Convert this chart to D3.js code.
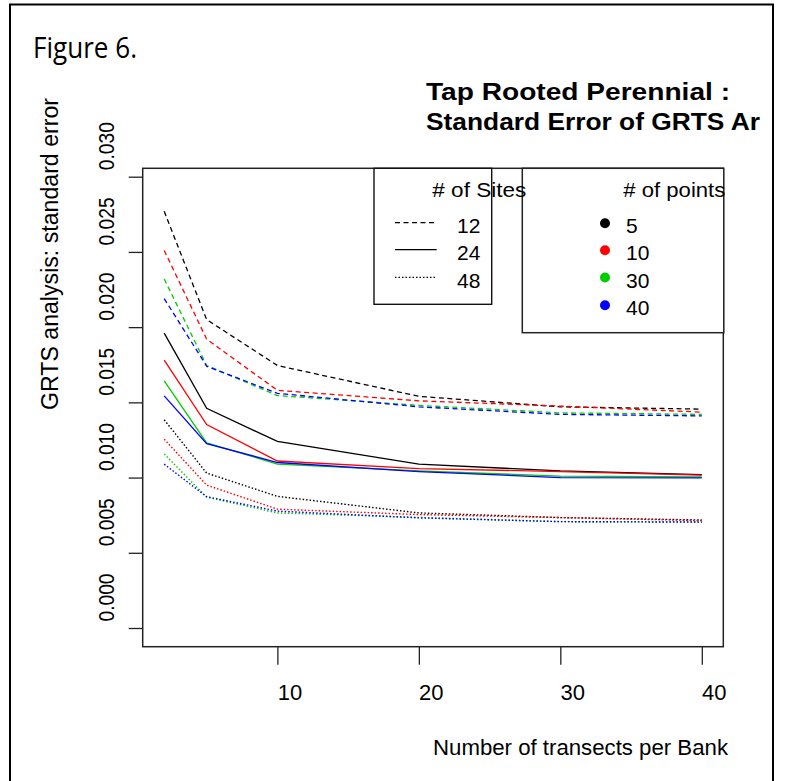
<!DOCTYPE html>
<html>
<head>
<meta charset="utf-8">
<script src="https://cdn.jsdelivr.net/npm/d3@7"></script>
<style>
  html, body { margin: 0; padding: 0; background: #fff; }
  svg { display: block; font-family: "Liberation Sans", Arial, sans-serif; }
</style>
</head>
<body>
<svg id="chart" width="786" height="781"></svg>
<script>
// ---- data ----
const transects = [2, 5, 10, 20, 30, 40];
const xTicks = [10, 20, 30, 40];
const yTicks = [0, 0.005, 0.010, 0.015, 0.020, 0.025, 0.030];
const siteLabels = ["12", "24", "48"];
const pointLabels = ["5", "10", "30", "40"];
const pointColors = ["#000000", "#FF0000", "#00CD00", "#0000FF"];

// 12 sites (dashed)
const sites12_p5  = [0.0277, 0.0205, 0.01745, 0.0154, 0.0147, 0.01455];
const sites12_p10 = [0.0251, 0.0192, 0.0158, 0.0151, 0.01475, 0.01435];
const sites12_p30 = [0.0232, 0.01745, 0.01545, 0.0148, 0.0143, 0.0142];
const sites12_p40 = [0.0219, 0.0174, 0.0156, 0.0147, 0.0142, 0.0141];
// 24 sites (solid)
const sites24_p5  = [0.0196, 0.0146, 0.0124, 0.0109, 0.01044, 0.0102];
const sites24_p10 = [0.0178, 0.01352, 0.0111, 0.0106, 0.0104, 0.01016];
const sites24_p30 = [0.01643, 0.0123, 0.0109, 0.01044, 0.0101, 0.01005];
const sites24_p40 = [0.01543, 0.01226, 0.0110, 0.0104, 0.0100, 0.00998];
// 48 sites (dotted)
const sites48_p5  = [0.01384, 0.0103, 0.00875, 0.00765, 0.00734, 0.00718];
const sites48_p10 = [0.01255, 0.0095, 0.0079, 0.00754, 0.00734, 0.00714];
const sites48_p30 = [0.01157, 0.0087, 0.00765, 0.00735, 0.00707, 0.00705];
const sites48_p40 = [0.01089, 0.00873, 0.00777, 0.00732, 0.00707, 0.00704];

const seriesBySite = [
  [sites12_p5, sites12_p10, sites12_p30, sites12_p40],
  [sites24_p5, sites24_p10, sites24_p30, sites24_p40],
  [sites48_p5, sites48_p10, sites48_p30, sites48_p40]
];
const dashes = ["5,3.5", null, "1.5,2"];

// ---- layout ----
const svg = d3.select("#chart");
const box = {left: 142.7, top: 168.3, right: 723.3, bottom: 646.7};

const x = d3.scaleLinear().domain([0.48, 41.52]).range([box.left, box.right]);
const y = d3.scaleLinear().domain([0, 0.030]).range([628, 176.7]);

// outer frame
svg.append("rect").attr("x", 10).attr("y", 4.5).attr("width", 763).attr("height", 820)
  .attr("fill", "#fff").attr("stroke", "#000").attr("stroke-width", 2);

// Figure label
svg.append("text").attr("x", 33).attr("y", 58)
  .attr("font-family", "'Open Sans', 'Noto Sans', sans-serif").attr("font-size", 29)
  .attr("textLength", 104).attr("lengthAdjust", "spacingAndGlyphs")
  .text("Figure 6.");

// Title
const titleG = svg.append("g").attr("font-weight", "bold").attr("font-size", 24).attr("fill", "#000");
titleG.append("text").attr("x", 426).attr("y", 100)
  .attr("textLength", 304).attr("lengthAdjust", "spacingAndGlyphs")
  .text("Tap Rooted Perennial :");
titleG.append("text").attr("x", 426).attr("y", 129.5)
  .attr("textLength", 334).attr("lengthAdjust", "spacingAndGlyphs")
  .text("Standard Error of GRTS Ar");

// lines
const line = d3.line().x((d, i) => x(transects[i])).y(d => y(d));
seriesBySite.forEach((group, si) => {
  group.forEach((vals, pi) => {
    svg.append("path").datum(vals)
      .attr("d", line)
      .attr("fill", "none")
      .attr("stroke", pointColors[pi])
      .attr("stroke-width", si === 2 ? 1.4 : 1.3)
      .attr("stroke-dasharray", dashes[si]);
  });
});

// plot box
svg.append("rect").attr("x", box.left).attr("y", box.top)
  .attr("width", box.right - box.left).attr("height", box.bottom - box.top)
  .attr("fill", "none").attr("stroke", "#222").attr("stroke-width", 1.5);

// y axis
const yAxis = svg.append("g").attr("transform", `translate(${box.left},0)`)
  .call(d3.axisLeft(y).tickValues(yTicks).tickSize(14).tickFormat(d3.format(".3f")));
yAxis.select(".domain").remove();
yAxis.selectAll(".tick line").attr("stroke", "#222").attr("stroke-width", 1.3);
yAxis.selectAll(".tick text")
  .attr("x", 0).attr("dy", 0)
  .attr("transform", "translate(-29,-31) rotate(-90)")
  .attr("text-anchor", "middle")
  .attr("font-family", "'Liberation Sans', Arial, sans-serif")
  .attr("font-size", 22).attr("fill", "#000")
  .attr("textLength", 48).attr("lengthAdjust", "spacingAndGlyphs");

// x axis
const xAxis = svg.append("g").attr("transform", `translate(0,${box.bottom})`)
  .call(d3.axisBottom(x).tickValues(xTicks).tickSize(18).tickFormat(d3.format("d")));
xAxis.select(".domain").remove();
xAxis.selectAll(".tick line").attr("stroke", "#222").attr("stroke-width", 1.3);
xAxis.selectAll(".tick text")
  .attr("x", 12).attr("y", 53).attr("dy", 0)
  .attr("font-family", "'Liberation Sans', Arial, sans-serif")
  .attr("font-size", 22).attr("fill", "#000");

// axis titles
svg.append("text")
  .attr("transform", "translate(57.5,254) rotate(-90)")
  .attr("text-anchor", "middle").attr("font-size", 23)
  .attr("textLength", 312).attr("lengthAdjust", "spacingAndGlyphs")
  .text("GRTS analysis: standard error");
svg.append("text").attr("x", 433).attr("y", 755).attr("font-size", 22)
  .attr("textLength", 295).attr("lengthAdjust", "spacingAndGlyphs")
  .text("Number of transects per Bank");

// legend: sites
svg.append("rect").attr("x", 374).attr("y", box.top).attr("width", 117.7).attr("height", 136)
  .attr("fill", "#fff").attr("stroke", "#111").attr("stroke-width", 1.4);
// legend: points
svg.append("rect").attr("x", 522.3).attr("y", box.top).attr("width", 201.5).attr("height", 164.4)
  .attr("fill", "#fff").attr("stroke", "#222").attr("stroke-width", 1.5);

svg.append("text").attr("x", 432.3).attr("y", 197).attr("font-size", 21)
  .attr("textLength", 94).attr("lengthAdjust", "spacingAndGlyphs").text("# of Sites");
const siteRowY = [222.7, 249.5, 277.3];
siteLabels.forEach((lab, i) => {
  svg.append("line").attr("x1", 395).attr("x2", 436.7)
    .attr("y1", siteRowY[i]).attr("y2", siteRowY[i])
    .attr("stroke", "#000").attr("stroke-width", 1.25)
    .attr("stroke-dasharray", dashes[i]);
  svg.append("text").attr("x", 457).attr("y", siteRowY[i] + 10.7)
    .attr("font-size", 21).text(lab);
});

svg.append("text").attr("x", 623.3).attr("y", 197).attr("font-size", 21)
  .attr("textLength", 102).attr("lengthAdjust", "spacingAndGlyphs").text("# of points");
const pointRowY = [223.3, 250.3, 277.5, 305.3];
pointLabels.forEach((lab, i) => {
  svg.append("circle").attr("cx", 605).attr("cy", pointRowY[i]).attr("r", 5)
    .attr("fill", pointColors[i]);
  svg.append("text").attr("x", 626).attr("y", pointRowY[i] + 10)
    .attr("font-size", 21).text(lab);
});
</script>
</body>
</html>
